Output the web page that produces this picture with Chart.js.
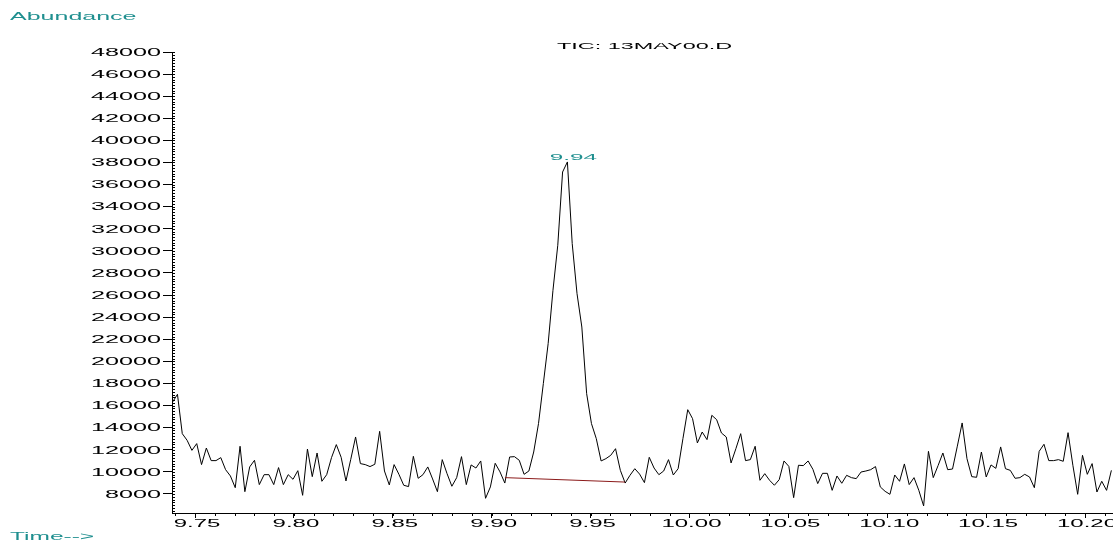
<!DOCTYPE html>
<html>
<head>
<meta charset="utf-8">
<script src="https://cdn.jsdelivr.net/npm/chart.js@4.4.1/dist/chart.umd.min.js"></script>
<style>
  html, body { margin: 0; padding: 0; background: #fff; }
  canvas { display: block; }
</style>
</head>
<body>
<canvas id="ticChart" width="1113" height="540"></canvas>
<script>
// TIC: 13MAY00.D

// scan grid of the acquisition (minutes)
const scanStart = 9.7387;
const scanInterval = 0.002434;

// abundance per scan
const abundance = [
    16330, 17020, 13460, 12860, 11950, 12560, 10660, 12160, 11020, 11020,
    11290, 10200, 9630, 8570, 12320, 8210, 10450, 11050, 8850, 9750,
    9750, 8850, 10390, 8850, 9750, 9330, 10110, 7880, 12070, 9570,
    11710, 9150, 9750, 11290, 12470, 11320, 9180, 11140, 13160, 10750,
    10660, 10480, 10690, 13670, 10080, 8820, 10660, 9780, 8790, 8670,
    11410, 9420, 9750, 10450, 9360, 8210, 11110, 9840, 8700, 9480,
    11380, 8850, 10630, 10350, 10990, 7610, 8640, 10780, 10000, 8990,
    11350, 11380, 11050, 9780, 10080, 11800, 14370, 17990, 21610, 26430,
    30510, 37140, 38050, 30660, 26130, 23110, 17080, 14370, 13010, 10990,
    11200, 11500, 12100, 10140, 8990, 9690, 10290, 9800, 9030, 11320,
    10350, 9750, 10080, 11110, 9720, 10290, 13010, 15630, 14820, 12620,
    13610, 12920, 15120, 14730, 13520, 13160, 10810, 12100, 13460, 11020,
    11110, 12320, 9240, 9840, 9240, 8790, 9300, 10990, 10500, 7670,
    10600, 10570, 10990, 10230, 8940, 9870, 9870, 8330, 9630, 8970,
    9690, 9480, 9390, 9990, 10080, 10200, 10480, 8640, 8240, 7970,
    9720, 9150, 10720, 8850, 9480, 8330, 6920, 11860, 9480, 10570,
    11710, 10200, 10260, 12330, 14430, 11200, 9570, 9510, 11800, 9540,
    10630, 10320, 12260, 10290, 10140, 9420, 9480, 9780, 9540, 8570,
    11860, 12500, 11020, 11020, 11110, 10960, 13550, 10600, 7970, 11500,
    9780, 10750, 8180, 9150, 8330, 10140
];

// integration baseline under the peak
const baselineTimes = [9.9067, 9.9674];
const baselineValues = [9480, 9080];

// axis ticks and texts
const xTickValues = [9.75, 9.80, 9.85, 9.90, 9.95, 10.00, 10.05, 10.10, 10.15, 10.20];
const yTickValues = [8000, 10000, 12000, 14000, 16000, 18000, 20000, 22000, 24000,
    26000, 28000, 30000, 32000, 34000, 36000, 38000, 40000, 42000, 44000, 46000, 48000];
const xMin = 9.73837, xMax = 10.21415;
const yMin = 6280, yMax = 48000;
const titleText = 'TIC: 13MAY00.D';
const yAxisText = 'Abundance';
const xAxisText = 'Time-->';
const peakLabel = '9.94';

const TEAL = '#1f8f8f';
const FONT = '"Liberation Sans", Arial, sans-serif';

const tracePoints = abundance.map((v, i) => ({ x: scanStart + i * scanInterval, y: v }));
const baselinePoints = baselineTimes.map((t, i) => ({ x: t, y: baselineValues[i] }));

// the instrument font is very wide, so stretch text horizontally
function wideText(ctx, str, x, y, align, size, sx, color) {
    ctx.save();
    ctx.font = size + 'px ' + FONT;
    ctx.fillStyle = color;
    ctx.textAlign = 'left';
    ctx.textBaseline = 'alphabetic';
    const w = ctx.measureText(str).width * sx;
    let left = x;
    if (align === 'right') left = x - w;
    if (align === 'center') left = x - w / 2;
    ctx.translate(left, y);
    ctx.scale(sx, 1);
    ctx.fillText(str, 0, 0);
    ctx.restore();
}

const chemstationText = {
    id: 'chemstationText',
    afterDraw(chart) {
        const ctx = chart.ctx;
        const xs = chart.scales.x;
        const ys = chart.scales.y;
        const area = chart.chartArea;

        // minor ticks
        ctx.save();
        ctx.strokeStyle = '#000';
        ctx.lineWidth = 1;
        ctx.beginPath();
        for (let v = Math.ceil(yMin / 250) * 250; v <= yMax; v += 250) {
            const py = Math.round(ys.getPixelForValue(v)) + 0.5;
            ctx.moveTo(area.left, py);
            ctx.lineTo(area.left + 3, py);
        }
        for (let k = 974; k <= 1021; k++) {
            const px = Math.round(xs.getPixelForValue(k / 100)) + 0.5;
            ctx.moveTo(px, area.bottom);
            ctx.lineTo(px, area.bottom + 3);
        }
        ctx.stroke();
        ctx.restore();

        // tick labels
        ys.ticks.forEach(t => {
            wideText(ctx, String(t.value), 161, ys.getPixelForValue(t.value) + 3.8, 'right', 10.5, 2.4, '#000');
        });
        xs.ticks.forEach(t => {
            wideText(ctx, t.value.toFixed(2), xs.getPixelForValue(t.value) + 2, 527, 'center', 10, 2.4, '#000');
        });

        // titles
        wideText(ctx, yAxisText, 10, 20, 'left', 10, 2.5, TEAL);
        wideText(ctx, xAxisText, 10, 540, 'left', 10, 2.45, TEAL);
        wideText(ctx, titleText, 644.5, 49, 'center', 9, 2.6, '#000');

        // peak label at the apex
        let top = 0;
        abundance.forEach((v, i) => { if (v > abundance[top]) top = i; });
        const px = xs.getPixelForValue(tracePoints[top].x);
        const py = ys.getPixelForValue(tracePoints[top].y);
        wideText(ctx, peakLabel, px + 6, py - 1.7, 'center', 9, 2.7, TEAL);
    }
};

new Chart(document.getElementById('ticChart'), {
    type: 'line',
    data: {
        datasets: [
            {
                data: baselinePoints,
                borderColor: '#8b1a1a',
                borderWidth: 1,
                pointRadius: 0,
                tension: 0
            },
            {
                data: tracePoints,
                borderColor: '#000',
                borderWidth: 1,
                pointRadius: 0,
                tension: 0
            }
        ]
    },
    options: {
        responsive: false,
        animation: false,
        devicePixelRatio: 1,
        layout: { padding: { top: 52, left: 0, right: 0, bottom: 0 } },
        plugins: {
            legend: { display: false },
            tooltip: { enabled: false }
        },
        scales: {
            x: {
                type: 'linear',
                min: xMin,
                max: xMax,
                afterBuildTicks: s => { s.ticks = xTickValues.map(v => ({ value: v })); },
                afterFit: s => { s.height = 27; },
                ticks: { display: false },
                grid: { display: true, drawOnChartArea: false, drawTicks: true, tickLength: 5, color: '#000', tickColor: '#000' },
                border: { display: true, color: '#000', width: 1 }
            },
            y: {
                type: 'linear',
                min: yMin,
                max: yMax,
                afterBuildTicks: s => { s.ticks = yTickValues.map(v => ({ value: v })); },
                afterFit: s => { s.width = 172; },
                ticks: { display: false },
                grid: { display: true, drawOnChartArea: false, drawTicks: true, tickLength: 9, color: '#000', tickColor: '#000' },
                border: { display: true, color: '#000', width: 1 }
            }
        }
    },
    plugins: [chemstationText]
});
</script>
</body>
</html>
